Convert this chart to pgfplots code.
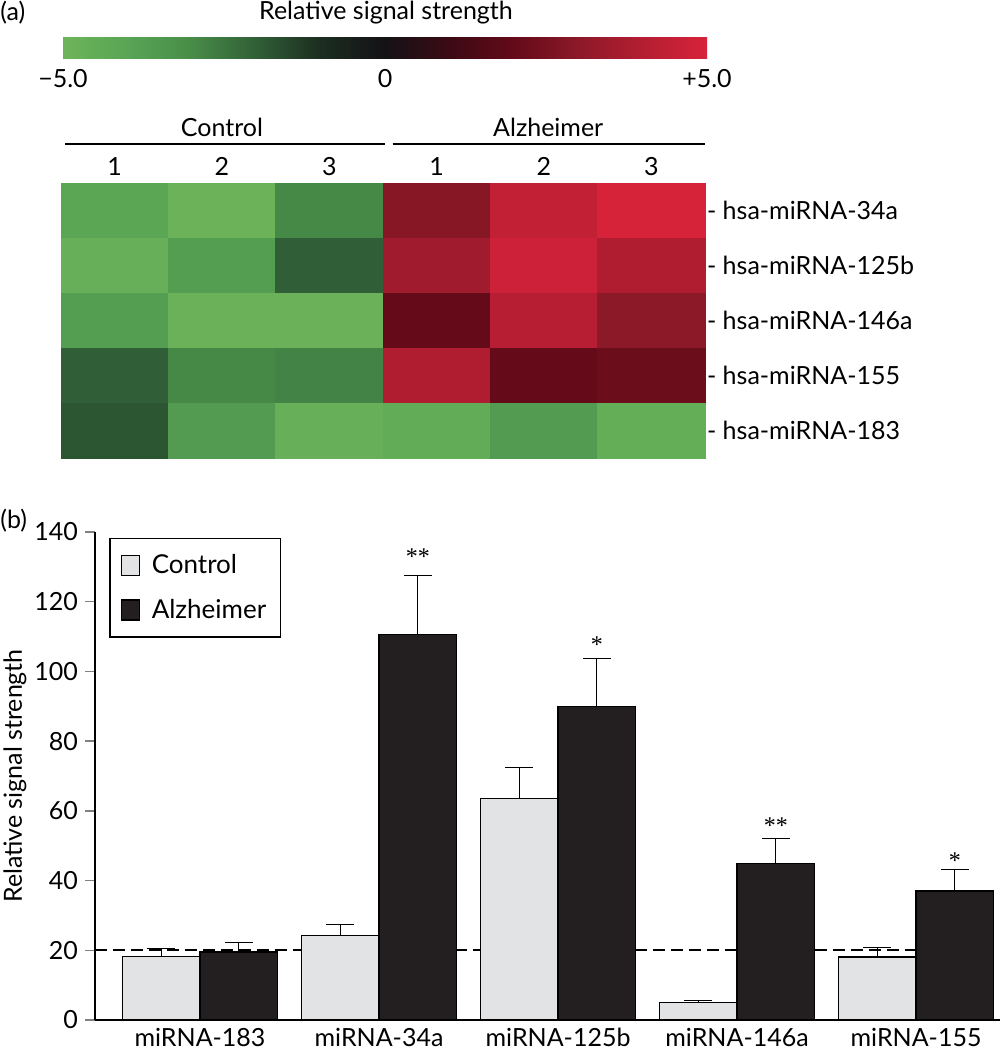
\documentclass[border=0pt]{standalone}
\usepackage{pgfplots}
\pgfplotsset{compat=1.18}
\usepackage{fontspec}
\setmainfont{Lato}
\newfontfamily\serif{Liberation Serif}
\definecolor{ctrl}{RGB}{226,227,229}
\definecolor{alz}{RGB}{35,31,32}
\pgfplotsset{colormap={heat}{rgb255(0cm)=(110,180,90); rgb255(1cm)=(88,165,85); rgb255(2cm)=(72,140,72);
    rgb255(3cm)=(48,95,55); rgb255(4cm)=(28,45,32); rgb255(5cm)=(20,18,22); rgb255(6cm)=(60,10,20);
    rgb255(7cm)=(100,10,25); rgb255(8cm)=(140,25,40); rgb255(9cm)=(180,30,50); rgb255(10cm)=(215,35,58)}}
\begin{document}
\begin{tikzpicture}[font=\fontsize{12.5}{15}\selectfont]
\useasboundingbox (0,0) rectangle (501.5pt,525pt);
% panel labels
\node[anchor=west,inner sep=0pt] at (0pt,518.5pt) {(a)};
\node[anchor=west,inner sep=0pt] at (0pt,264.5pt) {(b)};
\node at (193pt,518.5pt) {Relative signal strength};
% ---------- colour scale ----------
\begin{axis}[at={(31.5pt,515pt)}, anchor=north west,
  width=322pt, height=10.5pt, scale only axis, hide axis,
  xmin=0, xmax=1, ymin=0, ymax=1,
  colormap name=heat, point meta min=-5, point meta max=5,
  colorbar horizontal,
  colorbar style={at={(parent axis.north west)}, anchor=north west,
    width=322pt, height=10.5pt, scale only axis,
    xtick={-5,0,5}, xticklabels={{−5.0},{0},{+5.0}}, major tick length=0pt,
    axis line style={draw=none}, xticklabel style={yshift=-2pt}},
]
\addplot[draw=none, mark=none] coordinates {(0,0)};
\end{axis}
% ---------- heatmap ----------
\begin{axis}[name=hm, at={(30.5pt,296pt)}, anchor=south west,
  width=322pt, height=137.5pt, scale only axis,
  xmin=-0.5, xmax=5.5, ymin=-0.5, ymax=4.5, y dir=reverse, enlargelimits=false,
  colormap name=heat, point meta min=-5, point meta max=5,
  xtick={0,...,5}, xticklabels={1,2,3,1,2,3}, xticklabel pos=upper,
  ytick={0,...,4}, yticklabels={- hsa-miRNA-34a,- hsa-miRNA-125b,- hsa-miRNA-146a,- hsa-miRNA-155,- hsa-miRNA-183},
  yticklabel pos=right, yticklabel style={xshift=-2.5pt},
  major tick length=0pt, axis line style={draw=none},
  clip=false,
]
\addplot[matrix plot*, mesh/cols=6, mesh/rows=5, point meta=explicit] table[meta=c] {
x y c
0 0 -4.1
1 0 -4.9
2 0 -2.9
3 0 2.9
4 0 4.4
5 0 5.0
0 1 -4.7
1 1 -3.7
2 1 -2.0
3 1 3.5
4 1 4.7
5 1 3.9
0 2 -3.7
1 2 -4.8
2 2 -4.8
3 2 2.0
4 2 4.1
5 2 3.0
0 3 -2.0
1 3 -2.9
2 3 -2.8
3 3 3.9
4 3 2.0
5 3 2.2
0 4 -1.8
1 4 -3.6
2 4 -4.7
3 4 -4.5
4 4 -3.6
5 4 -4.6
};
\draw[line width=0.7pt] (axis cs:-0.46,-1.209) -- (axis cs:2.52,-1.209);
\draw[line width=0.7pt] (axis cs:2.59,-1.209) -- (axis cs:5.5,-1.209);
\node at (axis cs:1.0,-1.518) {Control};
\node at (axis cs:4.04,-1.518) {Alzheimer};
\end{axis}
% ---------- bar chart ----------
\begin{axis}[at={(47.5pt,15pt)}, anchor=south west,
  width=452.5pt, height=244pt, scale only axis,
  xmin=-0.5866, xmax=4.469, ymin=0, ymax=140,
  axis lines=left, axis line style={-, line width=0.75pt},
  xtick={0,...,4}, xticklabels={miRNA-183,miRNA-34a,miRNA-125b,miRNA-146a,miRNA-155},
  xtick style={draw=none}, xticklabel style={yshift=4.5pt},
  ytick={0,20,...,140}, ytick style={line width=0.75pt}, tick align=outside, major tick length=5pt,
  /pgf/number format/assume math mode=true,
  ylabel={Relative signal strength},
  ylabel style={at={(axis description cs:-0.0884,0.5)}, anchor=center},
  legend style={at={(0.0155,0.9877)}, anchor=north west, draw=black, line width=0.75pt,
    font=\fontsize{13}{15}\selectfont, row sep=7pt, inner xsep=5pt, inner ysep=6pt},
  legend cell align=left,
  clip=false,
]
\addplot[forget plot, dash pattern=on 6pt off 3pt, line width=0.8pt, mark=none]
  coordinates {(-0.5866,20) (4.413,20)};
\addplot[ybar, bar width=38.75pt, bar shift=0pt, fill=ctrl, draw=black, line width=0.6pt,
  legend image code/.code={\draw[fill=ctrl,draw=black,line width=0.6pt] (1pt,-5pt) rectangle (10pt,5pt); \path[draw=none,fill=none] (0pt,0pt) rectangle (14pt,0.1pt);},
  error bars/.cd, y dir=plus, y explicit,
  error mark options={rotate=90, mark size=7pt, line width=0.6pt},
  error bar style={line width=0.6pt}]
  coordinates {(-0.2165,18.2) +- (0,2.3) (0.7835,24.3) +- (0,3.2) (1.7835,63.5) +- (0,9.0) (2.7835,5.0) +- (0,0.6) (3.7835,18.1) +- (0,2.6)};
\addplot[ybar, bar width=38.75pt, bar shift=0pt, fill=alz, draw=black, line width=0.6pt,
  legend image code/.code={\draw[fill=alz,draw=black,line width=0.6pt] (1pt,-5pt) rectangle (10pt,5pt); \path[draw=none,fill=none] (0pt,0pt) rectangle (14pt,0.1pt);},
  error bars/.cd, y dir=plus, y explicit,
  error mark options={rotate=90, mark size=7pt, line width=0.6pt},
  error bar style={line width=0.6pt}]
  coordinates {(0.2165,19.5) +- (0,2.8) (1.2165,110.6) +- (0,17.0) (2.2165,90.0) +- (0,13.6) (3.2165,45.0) +- (0,7.0) (4.2165,37.0) +- (0,6.1)};
\legend{Control,Alzheimer}
\node[anchor=base,font=\serif\fontsize{12}{14}\selectfont] at (axis cs:1.2165,130.8) {**};
\node[anchor=base,font=\serif\fontsize{12}{14}\selectfont] at (axis cs:2.2165,105.5) {*};
\node[anchor=base,font=\serif\fontsize{12}{14}\selectfont] at (axis cs:3.2165,53.6) {**};
\node[anchor=base,font=\serif\fontsize{12}{14}\selectfont] at (axis cs:4.2165,43.6) {*};
\end{axis}
\end{tikzpicture}
\end{document}
